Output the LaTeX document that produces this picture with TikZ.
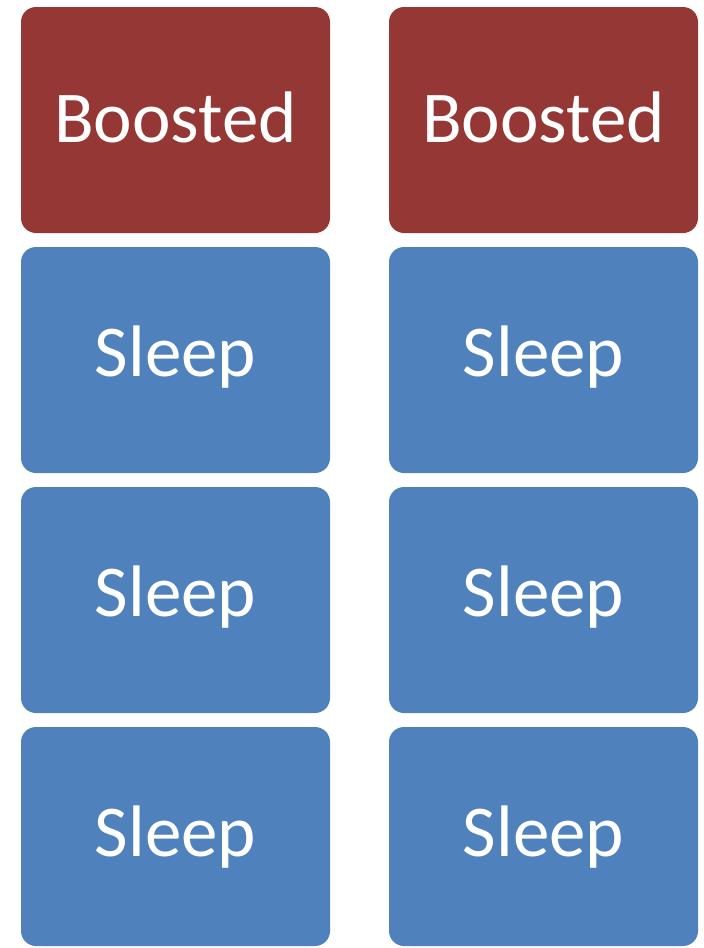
\documentclass[tikz,border=0pt]{standalone}
\usepackage{fontspec}
\setmainfont{Carlito}
\definecolor{boostred}{HTML}{953735}
\definecolor{sleepblue}{HTML}{4F81BD}
\begin{document}
\begin{tikzpicture}[x=1pt,y=-1pt,
  celltext/.style={text=white,anchor=base,inner sep=0pt,font=\fontsize{73}{80}\selectfont},
  boostbox/.style={fill=boostred,rounded corners=15pt},
  sleepbox/.style={fill=sleepblue,rounded corners=15pt}]
\useasboundingbox (0,0) rectangle (704,948);
\foreach \c/\xa/\xb in {L/21/330,R/389/698}{
  \fill[boostbox] (\xa,7) rectangle (\xb,233);
  \node[celltext] (b\c) at ({(\xa+\xb)/2},142) {Boosted};
  \foreach \i/\ya/\yb in {1/247/473,2/487/713,3/727/946}{
    \fill[sleepbox] (\xa,\ya) rectangle (\xb,\yb);
    \node[celltext] (s\c\i) at ({(\xa+\xb)/2},{\ya+129}) {Sleep};
  }
}
\end{tikzpicture}
\end{document}
